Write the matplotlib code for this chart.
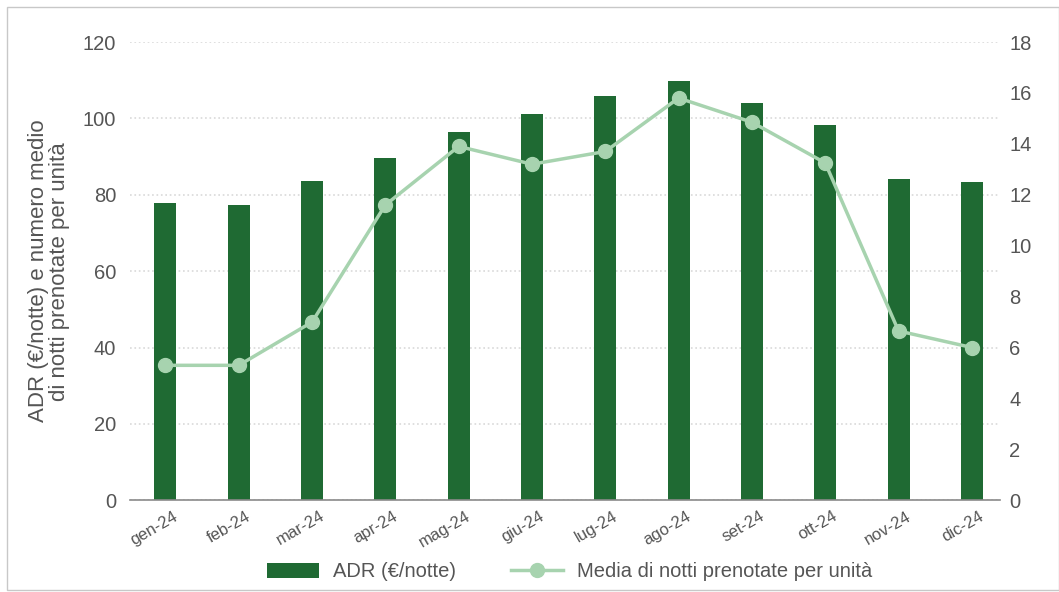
import numpy as np
import matplotlib.pyplot as plt
from matplotlib.lines import Line2D
from matplotlib.patches import Patch, Rectangle

plt.rcParams['font.family'] = ['Liberation Sans', 'DejaVu Sans']

# dati mensili 2024
mesi = ['gen-24', 'feb-24', 'mar-24', 'apr-24', 'mag-24', 'giu-24',
        'lug-24', 'ago-24', 'set-24', 'ott-24', 'nov-24', 'dic-24']
adr = [77.8, 77.3, 83.6, 89.6, 96.4, 101.1, 105.8, 109.8, 104.0, 98.2, 84.1, 83.3]
notti_medie = [5.3, 5.3, 7.0, 11.6, 13.9, 13.2, 13.7, 15.8, 14.85, 13.25, 6.65, 6.0]

verde_scuro = '#1f6a33'
verde_chiaro = '#a7d3af'
grigio = '#555555'

fig = plt.figure(figsize=(10.59, 5.92), dpi=100)
ax = fig.add_axes([0.123, 0.155, 0.821, 0.774])
x = np.arange(len(mesi))

ax.bar(x, adr, width=0.3, color=verde_scuro, zorder=2)
ax.set_ylim(0, 120)
ax.set_yticks(np.arange(0, 121, 20))
ax.set_xlim(-0.48, 11.38)
# tick senza segno: li sposto un filo a destra cosi' le etichette ruotate finiscono sotto la barra
ax.set_xticks(x + 0.1)
ax.set_xticklabels(mesi, rotation=30, ha='right', rotation_mode='anchor',
                   fontsize=12, color=grigio)
ax.tick_params(axis='y', labelsize=14.5, labelcolor=grigio, length=0, pad=10)
ax.tick_params(axis='x', length=0, pad=6)
ax.grid(axis='y', linestyle=':', color='#d9d9d9', linewidth=1.2, zorder=0)
for s in ['top', 'right', 'left']:
    ax.spines[s].set_visible(False)
ax.spines['bottom'].set_color('#8a8a8a')
ax.spines['bottom'].set_linewidth(1.2)
ax.set_ylabel('ADR (€/notte) e numero medio\ndi notti prenotate per unità',
              fontsize=16, color=grigio, labelpad=9, linespacing=1.0)

ax2 = ax.twinx()
ax2.plot(x, notti_medie, color=verde_chiaro, linewidth=2.5, marker='o',
         markersize=10, zorder=3)
ax2.set_ylim(0, 18)
ax2.set_yticks(np.arange(0, 19, 2))
ax2.tick_params(axis='y', labelsize=14.5, labelcolor=grigio, length=0, pad=7)
for s in ['top', 'right', 'left', 'bottom']:
    ax2.spines[s].set_visible(False)

handles = [Patch(facecolor=verde_scuro, label='ADR (€/notte)'),
           Line2D([0], [0], color=verde_chiaro, linewidth=2.5, marker='o',
                  markersize=10, label='Media di notti prenotate per unità')]
fig.legend(handles=handles, loc='center', bbox_to_anchor=(0.538, 0.034),
           ncol=2, frameon=False, fontsize=14.5, labelcolor=grigio,
           handlelength=2.6, handleheight=0.8, handletextpad=0.7,
           columnspacing=2.7)

fig.patches.append(Rectangle((0.007, 0.003), 0.993, 0.985, transform=fig.transFigure,
                             fill=False, edgecolor='#c8c8c8', linewidth=1))

fig.savefig('out.png', dpi=100)
